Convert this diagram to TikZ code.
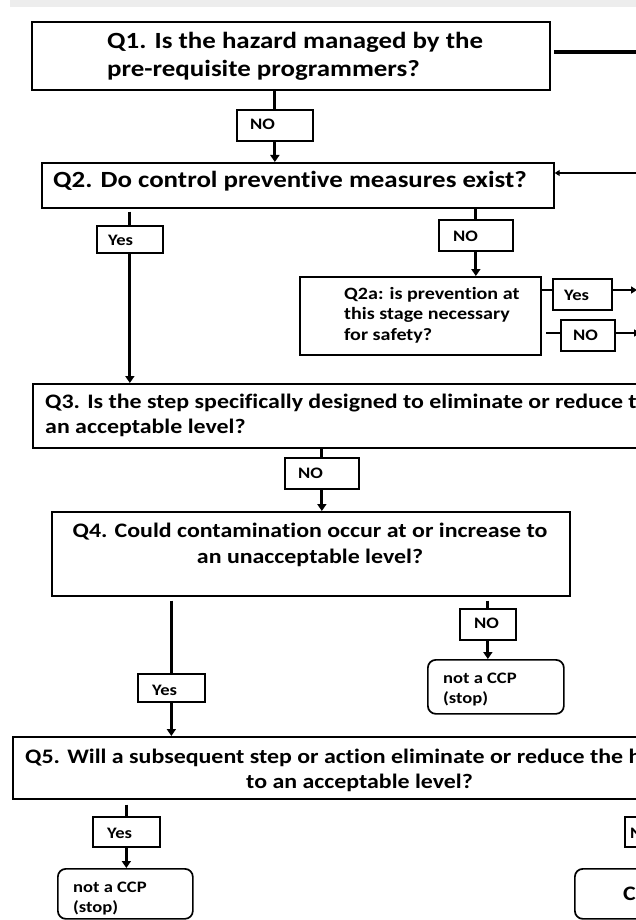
\documentclass[tikz,border=0pt]{standalone}
\usepackage{fontspec}
\setmainfont{Carlito}[FakeStretch=1.16, Ligatures=NoCommon]
\usetikzlibrary{arrows.meta}
\begin{document}
\begin{tikzpicture}[x=1pt,y=-1pt,
  box/.style={draw=black, line width=1.7pt, rectangle, inner sep=0pt, anchor=north west},
  stopbox/.style={box, rounded corners=8pt},
  conn/.style={line width=3pt},
  connarrow/.style={line width=3pt, -{Triangle[width=9pt,length=7pt]}},
  thinarrow/.style={line width=1.2pt, -{Triangle[width=6pt,length=5pt]}},
  midarrow/.style={line width=1.6pt, -{Triangle[width=7pt,length=6pt]}},
  thinconn/.style={line width=1.6pt},
  tbig/.style={inner sep=0pt, font=\fontsize{23.2}{28}\bfseries\selectfont},
  tmed/.style={inner sep=0pt, font=\fontsize{20.6}{25}\bfseries\selectfont},
  tsmall/.style={inner sep=0pt, font=\fontsize{17.3}{20}\bfseries\selectfont},
  tlab/.style={inner sep=0pt, font=\fontsize{16}{19}\bfseries\selectfont},
]
\useasboundingbox (0,0) rectangle (636,920);
\fill[white] (0,0) rectangle (636,920);
\clip (0,0) rectangle (636,920);
\fill[black!7] (10,0) rectangle (636,7);

% Q1
\node[box, minimum width=518pt, minimum height=68pt] (q1) at (31,21) {};
\node[tbig, anchor=base west] (q1a) at (107,49) {Q1. Is the hazard managed by the};
\node[tbig, anchor=base west] (q1b) at (107,77) {pre-requisite programmers?};
\coordinate (q1out) at (640,52);
\coordinate (q1r) at (554,52);
\draw[line width=4pt] (q1r) -- (q1out);

% NO1
\node[box, minimum width=76pt, minimum height=31pt] (no1) at (236,109) {};
\node[tlab, anchor=base west] (no1t) at (250,130) {NO};

% Q2
\node[box, minimum width=512pt, minimum height=45pt] (q2) at (41,162) {};
\node[tbig, anchor=base west] (q2t) at (53,188) {Q2. Do control preventive measures exist?};
\coordinate (q2in) at (640,173);

\draw[conn] (no1.north |- q1.south) -- (no1.north);
\draw[connarrow] (no1.south) -- (no1.south |- q2.north);
\draw[thinarrow] (q2in) -- (q2.east |- q2in);

% Yes1
\node[box, minimum width=66pt, minimum height=27pt] (yes1) at (96,225) {};
\node[tlab, anchor=base west] (yes1t) at (108,245) {Yes};

% NO2
\node[box, minimum width=74pt, minimum height=31pt] (no2) at (438,219) {};
\node[tlab, anchor=base west] (no2t) at (453,241) {NO};

% Q2a
\node[box, minimum width=241pt, minimum height=78pt] (q2a) at (299,276) {};
\node[tsmall, anchor=base west] (q2aa) at (344,299) {Q2a: is prevention at};
\node[tsmall, anchor=base west] (q2ab) at (344,319) {this stage necessary};
\node[tsmall, anchor=base west] (q2ac) at (344,340) {for safety?};

% Yes2, NO3
\node[box, minimum width=59pt, minimum height=31pt] (yes2) at (552,278) {};
\node[tlab, anchor=base west] (yes2t) at (564,300) {Yes};
\node[box, minimum width=54pt, minimum height=31pt] (no3) at (560,319) {};
\node[tlab, anchor=base west] (no3t) at (573,340) {NO};
\coordinate (yes2out) at (637,290);
\coordinate (no3out) at (640,333);
\coordinate (no3in) at (546,333);

\draw[thinconn] (q2a.east |- yes2out) -- (yes2.west |- yes2out);
\draw[midarrow] (yes2.east |- yes2out) -- (yes2out);
\draw[thinconn] (no3in) -- (no3.west |- no3in);
\draw[midarrow] (no3.east |- no3in) -- (no3out);

% Q3
\node[box, minimum width=700pt, minimum height=64pt] (q3) at (32,383) {};
\node[tmed, anchor=base west] (q3a) at (45,408) {Q3. Is the step specifically designed to eliminate or reduce the likely};
\node[tmed, anchor=base west] (q3b) at (45,433) {an acceptable level?};

\draw[conn] ([yshift=-3pt]yes1.north |- q2.south) -- (yes1.north);
\draw[connarrow] (yes1.south) -- (yes1.south |- q3.north);
\draw[conn] (no2.north |- q2.south) -- (no2.north);
\draw[connarrow] (no2.south) -- (no2.south |- q2a.north);

% NO4
\node[box, minimum width=74pt, minimum height=31pt] (no4) at (284,457) {};
\node[tlab, anchor=base west] (no4t) at (298,478) {NO};

% Q4
\node[box, minimum width=518pt, minimum height=84pt] (q4) at (51,511) {};
\node[tmed, anchor=base] (q4a) at (310,537) {Q4. Could contamination occur at or increase to};
\node[tmed, anchor=base] (q4b) at (310,563) {an unacceptable level?};

\draw[conn] (no4.north |- q3.south) -- (no4.north);
\draw[connarrow] (no4.south) -- (no4.south |- q4.north);

% Yes3
\node[box, minimum width=67pt, minimum height=28pt] (yes3) at (137,673) {};
\node[tlab, anchor=base west] (yes3t) at (152,695) {Yes};

% NO5
\node[box, minimum width=56pt, minimum height=31pt] (no5) at (459,608) {};
\node[tlab, anchor=base west] (no5t) at (474,628) {NO};

% stop1
\node[stopbox, minimum width=136pt, minimum height=54pt] (stop1) at (427,659) {};
\node[tlab, anchor=base west] (stop1a) at (443,683) {not a CCP};
\node[tlab, anchor=base west] (stop1b) at (443,703) {(stop)};

% Q5
\node[box, minimum width=700pt, minimum height=62pt] (q5) at (12,736) {};
\node[tmed, anchor=base west] (q5a) at (25,763) {Q5. Will a subsequent step or action eliminate or reduce the hazard};
\node[tmed, anchor=base west] (q5b) at (246,788) {to an acceptable level?};

\draw[conn] ([yshift=-4pt]yes3.north |- q4.south) -- (yes3.north);
\draw[connarrow] (yes3.south) -- (yes3.south |- q5.north);
\draw[conn] ([yshift=-4pt]no5.north |- q4.south) -- (no5.north);
\draw[connarrow] (no5.south) -- (no5.south |- stop1.north);

% Yes4
\node[box, minimum width=67pt, minimum height=30pt] (yes4) at (92,816) {};
\node[tlab, anchor=base west] (yes4t) at (107,838) {Yes};

% stop2
\node[stopbox, minimum width=135pt, minimum height=50pt] (stop2) at (57,868) {};
\node[tlab, anchor=base west] (stop2a) at (73,892) {not a CCP};
\node[tlab, anchor=base west] (stop2b) at (73,912) {(stop)};

\draw[conn] ([yshift=-5pt]yes4.north |- q5.south) -- (yes4.north);
\draw[connarrow] (yes4.south) -- (yes4.south |- stop2.north);

% right-hand partial elements
\node[box, minimum width=60pt, minimum height=30pt] (no6) at (624,816) {};
\node[tlab, anchor=base west] (no6t) at (630,838) {NO};
\node[stopbox, minimum width=120pt, minimum height=50pt] (ccp) at (574,868) {};
\node[tmed, anchor=base west] (ccpt) at (623,900) {CCP};
\end{tikzpicture}
\end{document}
